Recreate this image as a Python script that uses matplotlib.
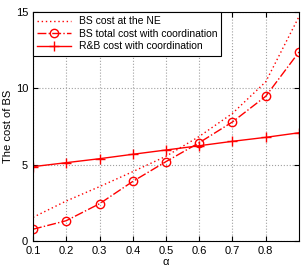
import numpy as np
import matplotlib
matplotlib.use("Agg")
import matplotlib.pyplot as plt

plt.rcParams['font.family'] = ['Liberation Sans', 'DejaVu Sans']

alpha = [0.1, 0.2, 0.3, 0.4, 0.5, 0.6, 0.7, 0.8, 0.9]
bs_ne = [1.55, 2.62, 3.56, 4.54, 5.55, 6.85, 8.36, 10.43, 14.7]
bs_coord = [0.77, 1.33, 2.44, 3.9, 5.2, 6.44, 7.8, 9.48, 12.38]
rb_coord = [4.87, 5.13, 5.39, 5.68, 5.96, 6.24, 6.53, 6.79, 7.09]

fig = plt.figure(figsize=(3.05, 2.71), dpi=100)
ax = fig.add_axes([33/305, 1-241/271, 266/305, 229/271])

ax.plot(alpha, bs_ne, linestyle=(0, (1, 2)), color='red', linewidth=1.0,
        label='BS cost at the NE')
ax.plot(alpha, bs_coord, '-.', color='red', linewidth=1.0, marker='o',
        markersize=6, markerfacecolor='none', markeredgewidth=1.0,
        label='BS total cost with coordination')
ax.plot(alpha, rb_coord, '-', color='red', linewidth=1.0, marker='+',
        markersize=7, markeredgewidth=1.0, label='R&B cost with coordination')

ax.set_xlim(0.1, 0.9)
ax.set_ylim(0, 15)
ax.set_xticks([0.1, 0.2, 0.3, 0.4, 0.5, 0.6, 0.7, 0.8])
ax.set_yticks([0, 5, 10, 15])
ax.grid(True, linestyle=':', color='#a0a0a0', linewidth=0.8)
ax.tick_params(direction='in', top=True, right=True, labelsize=8, length=3.5)
ax.set_xlabel('α', fontsize=8, labelpad=1)
ax.set_ylabel('The cost of BS', fontsize=8, labelpad=2)

leg = ax.legend(loc='upper left', fontsize=7.5, fancybox=False, framealpha=1,
                edgecolor='black', borderaxespad=0, handlelength=3.2,
                borderpad=0.4, labelspacing=0.25)
leg.get_frame().set_linewidth(0.8)

plt.savefig('out.png', dpi=100)
